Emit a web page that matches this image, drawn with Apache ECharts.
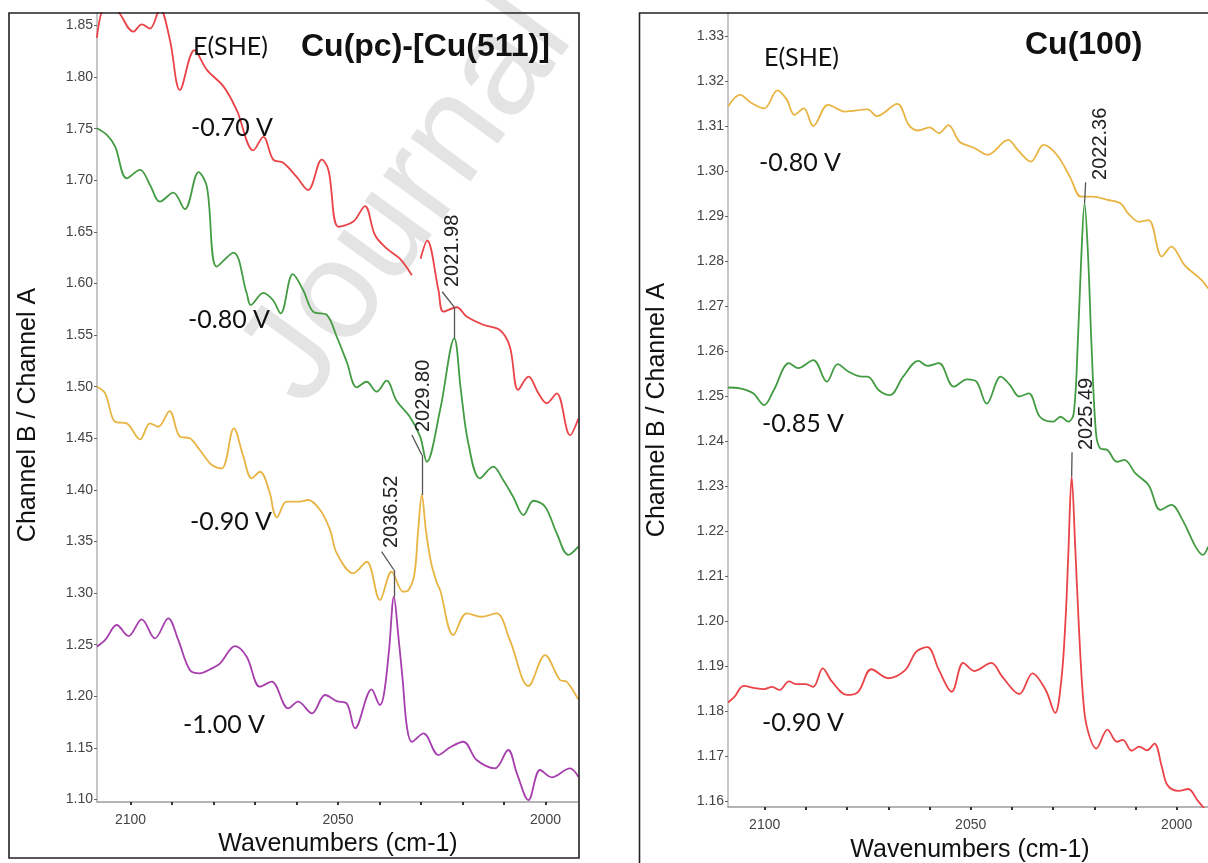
<!DOCTYPE html>
<html><head><meta charset="utf-8">
<script src="https://cdn.jsdelivr.net/npm/echarts@6/dist/echarts.min.js"></script>
<style>html,body{margin:0;padding:0;background:#fff}#c{width:1208px;height:863px}</style>
</head><body><div id="c"></div>
<script>
// ---------- data (wavenumber cm-1, Channel B / Channel A) ----------
// Left panel: Cu(pc)-[Cu(511)]
const red070 = [[2108.1,1.838],[2106.1,1.868],[2103.3,1.865],[2099.3,1.844],[2097.3,1.851],[2095.3,1.847],[2092.9,1.866],[2090.5,1.836],[2088.1,1.7875],[2084.6,1.826],[2081.6,1.807],[2077.6,1.791],[2074.4,1.768],[2070.4,1.729],[2068.0,1.742],[2065.6,1.720],[2063.2,1.717],[2060.0,1.7035],[2057.2,1.6906],[2053.9,1.720],[2052.3,1.710],[2049.9,1.655],[2046.3,1.660],[2043.5,1.675],[2041.1,1.647],[2038.3,1.634],[2035.1,1.624],[2032.2,1.608],[2031.2,'-'],[2030.1,1.624],[2028.5,1.6415],[2025.8,1.5937],[2024.6,1.5727],[2021.4,1.577],[2019.0,1.568],[2015.0,1.560],[2011.0,1.555],[2008.6,1.539],[2006.6,1.497],[2004.1,1.5097],[2001.7,1.4936],[1999.7,1.484],[1997.3,1.4936],[1994.1,1.453],[1992.1,1.469]];
const green080 = [[2108.1,1.7504],[2105.7,1.7439],[2103.7,1.7326],[2100.9,1.7019],[2097.7,1.710],[2095.3,1.6955],[2092.9,1.6793],[2089.7,1.688],[2086.9,1.672],[2083.6,1.708],[2081.6,1.6938],[2079.2,1.6163],[2075.2,1.630],[2072.0,1.5905],[2071.0,1.5792],[2068.0,1.591],[2065.7,1.584],[2063.8,1.5711],[2060.9,1.609],[2058.4,1.5937],[2056.0,1.5727],[2052.7,1.5695],[2050.3,1.5484],[2047.9,1.5242],[2045.5,1.4994],[2043.1,1.5048],[2040.7,1.4952],[2038.3,1.5058],[2035.9,1.4864],[2032.7,1.4709],[2030.2,1.4516],[2028.6,1.4273],[2025.4,1.4774],[2021.98,1.5469],[2020.4,1.4968],[2018.6,1.4452],[2015.8,1.4112],[2012.6,1.4225],[2010.2,1.4096],[2007.8,1.3934],[2005.3,1.3757],[2002.9,1.3895],[2000.1,1.3837],[1997.3,1.358],[1994.5,1.337],[1992.1,1.345]];
const yellow090 = [[2108.1,1.500],[2106.1,1.4936],[2103.7,1.466],[2100.9,1.4645],[2097.7,1.449],[2095.3,1.4645],[2093.3,1.4612],[2090.6,1.4764],[2088.1,1.4516],[2085.7,1.45],[2083.3,1.4387],[2080.4,1.4241],[2078.0,1.4209],[2075.1,1.4597],[2072.8,1.4322],[2070.8,1.4112],[2068.8,1.4176],[2066.4,1.3967],[2065.6,1.3805],[2064.8,1.3734],[2062.4,1.3886],[2059.6,1.3886],[2057.2,1.3902],[2054.3,1.3805],[2051.9,1.3611],[2050.3,1.3386],[2046.3,1.3192],[2043.1,1.3304],[2039.9,1.2933],[2037.1,1.3207],[2034.3,1.3014],[2033.0,1.303],[2031.6,1.318],[2030.7,1.36],[2029.8,1.3951],[2028.8,1.36],[2027.6,1.33],[2026.2,1.31],[2025.4,1.303],[2022.2,1.2594],[2019.0,1.2804],[2015.4,1.2771],[2011.8,1.2804],[2008.6,1.2546],[2004.1,1.21],[2000.1,1.24],[1996.5,1.2158],[1994.9,1.2142],[1992.1,1.197]];
const purple100 = [[2108.1,1.2481],[2106.1,1.2546],[2103.3,1.2691],[2100.5,1.2584],[2097.3,1.2746],[2094.1,1.2562],[2090.9,1.2756],[2088.5,1.2546],[2085.7,1.2255],[2083.3,1.2223],[2080.4,1.2271],[2078.4,1.232],[2074.8,1.2487],[2072.0,1.2384],[2068.8,1.2093],[2066.0,1.2142],[2062.0,1.1884],[2059.6,1.1948],[2056.3,1.1835],[2053.1,1.2013],[2050.3,1.1954],[2047.9,1.1932],[2045.9,1.169],[2041.9,1.2068],[2039.9,1.1916],[2038.9,1.2029],[2037.7,1.245],[2036.52,1.2965],[2035.5,1.26],[2034.4,1.215],[2033.4,1.1706],[2032.2,1.156],[2029.4,1.1641],[2025.8,1.1431],[2023.0,1.1506],[2019.8,1.156],[2016.6,1.1383],[2012.2,1.1302],[2009.0,1.148],[2006.9,1.1254],[2004.1,1.0995],[2001.3,1.1286],[1998.5,1.1215],[1994.1,1.1302],[1992.1,1.1221]];
// Right panel: Cu(100)
const yellow080R = [[2108.9,1.3144],[2106.0,1.317],[2103.2,1.3152],[2100.1,1.314],[2096.9,1.318],[2094.6,1.3159],[2092.8,1.3126],[2090.5,1.314],[2088.2,1.3101],[2084.6,1.3148],[2080.5,1.3133],[2075.0,1.3138],[2072.8,1.3123],[2067.8,1.315],[2065.0,1.3103],[2062.7,1.3091],[2060.0,1.3098],[2057.7,1.3085],[2055.4,1.3103],[2052.7,1.3066],[2049.1,1.3052],[2045.9,1.3037],[2040.9,1.307],[2038.6,1.3048],[2035.4,1.3022],[2032.3,1.3059],[2029.1,1.3037],[2025.9,1.2988],[2023.2,1.2944],[2020.4,1.2944],[2016.8,1.2937],[2013.6,1.2929],[2011.8,1.2907],[2009.1,1.2888],[2006.8,1.2892],[2003.6,1.2811],[2001.3,1.2833],[1998.1,1.2792],[1994.0,1.2759],[1992.4,1.274]];
const green085R = [[2108.9,1.252],[2106.0,1.2518],[2102.8,1.2507],[2100.1,1.2481],[2097.8,1.2514],[2094.1,1.2574],[2091.9,1.2563],[2088.2,1.2581],[2084.9,1.2533],[2082.3,1.2572],[2079.6,1.2555],[2076.4,1.2544],[2075.0,1.2544],[2072.3,1.2514],[2069.6,1.2503],[2066.4,1.2544],[2062.7,1.2579],[2060.5,1.2568],[2057.7,1.2574],[2054.1,1.2522],[2050.9,1.2538],[2048.6,1.2533],[2046.1,1.2484],[2042.7,1.2544],[2040.5,1.2526],[2038.2,1.25],[2035.9,1.2507],[2033.2,1.2455],[2030.0,1.2444],[2028.2,1.2455],[2026.3,1.2444],[2025.0,1.2462],[2024.0,1.262],[2023.2,1.280],[2022.36,1.2929],[2021.5,1.281],[2020.7,1.262],[2019.6,1.242],[2018.6,1.2385],[2016.8,1.2381],[2014.5,1.2355],[2012.7,1.2359],[2010.0,1.2329],[2006.8,1.2303],[2004.0,1.2248],[2001.3,1.2259],[1998.6,1.2226],[1995.4,1.2166],[1993.6,1.2148],[1992.4,1.2166]];
const red090R = [[2108.9,1.182],[2107.3,1.1833],[2105.1,1.1857],[2102.3,1.1852],[2100.1,1.185],[2098.2,1.1855],[2096.4,1.1848],[2094.1,1.1867],[2092.3,1.1861],[2090.0,1.1861],[2088.2,1.1855],[2085.9,1.1896],[2083.7,1.1867],[2080.0,1.1837],[2077.3,1.1844],[2074.1,1.1894],[2070.0,1.1874],[2065.9,1.1892],[2063.2,1.1933],[2060.5,1.1943],[2057.7,1.1892],[2054.6,1.1844],[2051.8,1.1908],[2049.1,1.189],[2045.0,1.1908],[2042.3,1.1877],[2038.2,1.1839],[2035.0,1.1885],[2031.8,1.1848],[2029.5,1.1797],[2028.0,1.1870],[2027.0,1.2000],[2026.3,1.2150],[2025.49,1.2322],[2024.6,1.2160],[2023.8,1.2000],[2022.8,1.1840],[2021.8,1.1766],[2019.5,1.1718],[2016.8,1.176],[2014.5,1.1733],[2013.1,1.1737],[2010.9,1.1713],[2009.1,1.1722],[2007.2,1.1714],[2005.4,1.1729],[2003.6,1.1677],[2002.2,1.1636],[1999.5,1.1624],[1997.2,1.1628],[1994.9,1.1602],[1992.4,1.1575]];

const potentialsLeft = ['-0.70 V','-0.80 V','-0.90 V','-1.00 V'];
const potentialsRight = ['-0.80 V','-0.85 V','-0.90 V'];
const peaksLeft = [2021.98, 2029.80, 2036.52];
const peaksRight = [2022.36, 2025.49];
const xTickLabels = [2100, 2050, 2000];
const xTicks = [2100,2090,2080,2070,2060,2050,2040,2030,2020,2010,2000];
const yTicksLeft = [1.10,1.15,1.20,1.25,1.30,1.35,1.40,1.45,1.50,1.55,1.60,1.65,1.70,1.75,1.80,1.85];
const yTicksRight = [1.16,1.17,1.18,1.19,1.20,1.21,1.22,1.23,1.24,1.25,1.26,1.27,1.28,1.29,1.30,1.31,1.32,1.33];

// ---------- chart ----------
const COL = {red:'#ea4348', green:'#439c43', yellow:'#e8b443', purple:'#a63ead'};
const FONT = 'Liberation Sans';
const chart = echarts.init(document.getElementById('c'), null, {renderer:'canvas'});

function xAx(gi, min, max){
  return {type:'value', gridIndex:gi, min:min, max:max, inverse:true,
    axisLine:{show:true, onZero:false, lineStyle:{color:'#9c9c9c', width:1.5}},
    axisTick:{show:true, customValues:xTicks, length:3, lineStyle:{color:'#333', width:2}},
    axisLabel:{customValues:xTickLabels, formatter:v=>String(Math.round(v)), color:'#444', fontSize:14, fontFamily:FONT, margin:11},
    splitLine:{show:false}};
}
function yAx(gi, min, max, ticks, dec){
  return {type:'value', gridIndex:gi, min:min, max:max,
    axisLine:{show:true, onZero:false, lineStyle:{color:'#b4b4b4', width:1.5}},
    axisTick:{show:true, customValues:ticks, length:3, lineStyle:{color:'#666', width:1}},
    axisLabel:{customValues:ticks, formatter:v=>Number(v).toFixed(dec), color:'#444', fontSize:14, fontFamily:FONT, margin:4},
    splitLine:{show:false}};
}
function lineSeries(name, data, color, gi, markLines){
  const s = {name:name, type:'line', xAxisIndex:gi, yAxisIndex:gi, data:data, showSymbol:false, symbol:'none',
    smooth:0.35, connectNulls:false, clip:true, silent:true, animation:false, z:3,
    lineStyle:{color:color, width:1.8}};
  if (markLines) s.markLine = {silent:true, symbol:'none', animation:false, label:{show:false},
    lineStyle:{color:'#555', width:1.3, type:'solid'}, data:markLines};
  return s;
}
const seg = (a,b)=>[{coord:a},{coord:b}];

const option = {
  animation:false,
  backgroundColor:'#fff',
  grid:[
    {left:97, top:13, width:481, height:789},
    {left:728, top:13, width:480, height:794}
  ],
  xAxis:[xAx(0, 1992.17, 2108.07), xAx(1, 1992.4, 2108.9)],
  yAxis:[yAx(0, 1.0976, 1.8621, yTicksLeft, 2), yAx(1, 1.1588, 1.3352, yTicksRight, 2)],
  series:[
    lineSeries(potentialsLeft[0], red070, COL.red, 0),
    lineSeries(potentialsLeft[1], green080, COL.green, 0,
      [seg([peaksLeft[0],1.547],[peaksLeft[0],1.5772]), seg([peaksLeft[0],1.5772],[2024.9,1.592])]),
    lineSeries(potentialsLeft[2], yellow090, COL.yellow, 0,
      [seg([peaksLeft[1],1.3951],[peaksLeft[1],1.4338]), seg([peaksLeft[1],1.4338],[2032.2,1.4532])]),
    lineSeries(potentialsLeft[3], purple100, COL.purple, 0,
      [seg([peaksLeft[2],1.2965],[peaksLeft[2],1.3224]), seg([peaksLeft[2],1.3224],[2039.5,1.3401])]),
    lineSeries(potentialsRight[0], yellow080R, COL.yellow, 1),
    lineSeries(potentialsRight[1], green085R, COL.green, 1,
      [seg([peaksRight[0],1.2929],[2022.1,1.2976])]),
    lineSeries(potentialsRight[2], red090R, COL.red, 1,
      [seg([peaksRight[1],1.2322],[2025.4,1.2376])])
  ]
};
chart.setOption(option);

// ---------- annotations ----------
function txt(t, x, y, size, opts){
  opts = opts || {};
  return {type:'text', x:x, y:y, rotation:opts.rot||0, z:10, silent:true,
    style:{text:t, fontSize:size, fontFamily:opts.family||FONT, fontWeight:opts.weight||'normal',
      fill:opts.fill||'#111', align:opts.align||'left', verticalAlign:opts.valign||'middle'}};
}
const g = [];
// watermark
g.push({type:'text', x:330, y:428, rotation:54*Math.PI/180, z:0, silent:true,
  style:{text:'Journal Pre-proof', fontSize:140, fontFamily:FONT, fill:'#e4e4e4', align:'left', verticalAlign:'bottom'}});
// frames
g.push({type:'rect', z:9, silent:true, shape:{x:9, y:13, width:570, height:845}, style:{fill:null, stroke:'#222', lineWidth:1.6}});
g.push({type:'polyline', z:9, silent:true, shape:{points:[[639.5,863],[639.5,13],[1210,13]]}, style:{fill:null, stroke:'#222', lineWidth:1.6}});
// titles / potentials
g.push(txt('E(SHE)', 193, 47, 25, {family:'Lato'}));
g.push(txt('Cu(pc)-[Cu(511)]', 301, 47, 32, {weight:'bold'}));
const leftLabelPos = [[191,128],[188,320],[190,522],[183,725]];
potentialsLeft.forEach((p,i)=>g.push(txt(p, leftLabelPos[i][0], leftLabelPos[i][1], 25, {family:'Lato'})));
g.push(txt('E(SHE)', 764, 58, 25, {family:'Lato'}));
g.push(txt('Cu(100)', 1025, 45, 32, {weight:'bold'}));
const rightLabelPos = [[759,163],[762,424],[762,723]];
potentialsRight.forEach((p,i)=>g.push(txt(p, rightLabelPos[i][0], rightLabelPos[i][1], 25, {family:'Lato'})));
// axis names
g.push(txt('Wavenumbers (cm-1)', 338, 844, 25, {align:'center'}));
g.push(txt('Wavenumbers (cm-1)', 970, 850, 25, {align:'center'}));
g.push(txt('Channel B / Channel A', 28, 415, 25, {align:'center', rot:Math.PI/2}));
g.push(txt('Channel B / Channel A', 657, 410, 25, {align:'center', rot:Math.PI/2}));
// peak labels (anchored in data coordinates)
const leftAnchors = [[2022.5,1.5966],[2029.5,1.4561],[2037.06,1.3437]];
peaksLeft.forEach((p,i)=>{
  const pt = chart.convertToPixel({gridIndex:0}, leftAnchors[i]);
  g.push(txt(p.toFixed(2), pt[0], pt[1], 20, {rot:Math.PI/2, fill:'#222'}));
});
const rightAnchors = [[2018.6,1.2981],[2022.0,1.2381]];
peaksRight.forEach((p,i)=>{
  const pt = chart.convertToPixel({gridIndex:1}, rightAnchors[i]);
  g.push(txt(p.toFixed(2), pt[0], pt[1], 20, {rot:Math.PI/2, fill:'#222'}));
});
chart.setOption({graphic:g});
</script>
</body></html>
